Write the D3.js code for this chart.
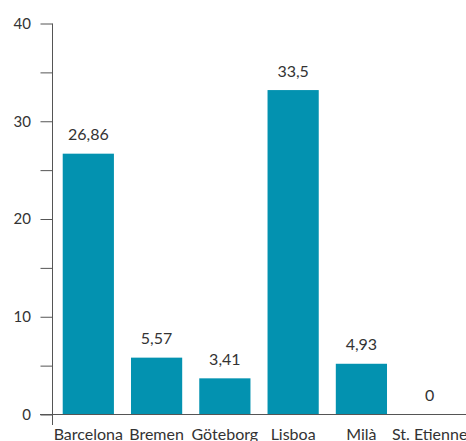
<!DOCTYPE html>
<html>
<head>
<meta charset="utf-8">
<script src="https://cdn.jsdelivr.net/npm/d3@7/dist/d3.min.js"></script>
<style>
  body { margin: 0; background: #fff; }
  text { font-family: Lato, "Open Sans", sans-serif; fill: #333; }
</style>
</head>
<body>
<div id="chart"></div>
<script>
// chart data
var cities = ["Barcelona", "Bremen", "Göteborg", "Lisboa", "Milà", "St. Etienne"];
var values = [26.86, 5.57, 3.41, 33.5, 4.93, 0];
var labels = ["26,86", "5,57", "3,41", "33,5", "4,93", "0"];
var yTicks = [0, 5, 10, 15, 20, 25, 30, 35, 40];

var width = 466, height = 441;
var svg = d3.select("#chart").append("svg")
    .attr("width", width)
    .attr("height", height);

var axisX = 52.5, baseY = 414.5;

// build rows from the arrays
var rows = cities.map(function(c, i) { return {city: c, value: values[i], label: labels[i]}; });

// scales
var x = d3.scaleBand().domain(cities).range([52, 466]).paddingInner(0.25).paddingOuter(0.157);
var y = d3.scaleLinear().domain([0, 40]).range([baseY, 23.5]);
// bars in the original sit on a slightly different scale than the axis
var yBar = d3.scaleLinear().domain([0, 40]).range([411, 27.8]);

// bars (zero values get no bar)
svg.selectAll("rect.bar").data(rows.filter(function(d) { return d.value > 0; }))
    .enter().append("rect")
    .attr("class", "bar")
    .attr("x", function(d) { return x(d.city); })
    .attr("y", function(d) { return yBar(d.value); })
    .attr("width", x.bandwidth())
    .attr("height", function(d) { return baseY - yBar(d.value); })
    .attr("fill", "#0392b0");

// value labels
svg.selectAll("text.val").data(rows)
    .enter().append("text")
    .attr("class", "val")
    .attr("x", function(d) { return x(d.city) + x.bandwidth() / 2; })
    .attr("y", function(d) { return (d.value > 0 ? yBar(d.value) : baseY) - 13.5; })
    .attr("text-anchor", "middle")
    .style("font-size", "16px")
    .text(function(d) { return d.label; });

// y axis
var yAxis = svg.append("g")
    .attr("transform", "translate(" + axisX + ",0)")
    .call(d3.axisLeft(y).tickValues(yTicks).tickSize(12).tickSizeOuter(0)
        .tickFormat(function(d) { return d % 10 === 0 ? d : ""; }));
yAxis.select(".domain").remove();
yAxis.selectAll("line").attr("stroke", "#555");
yAxis.selectAll("text")
    .attr("x", -21.5)
    .style("font-size", "15px")
    .style("font-family", "Lato, sans-serif")
    .attr("fill", "#333");

// axis lines
svg.append("line")
    .attr("x1", axisX).attr("x2", axisX)
    .attr("y1", y(40)).attr("y2", 425)
    .attr("stroke", "#555");
svg.append("line")
    .attr("x1", 40).attr("x2", 466)
    .attr("y1", baseY).attr("y2", baseY)
    .attr("stroke", "#555");

// category labels
svg.selectAll("text.cat").data(cities)
    .enter().append("text")
    .attr("class", "cat")
    .attr("x", function(d) { return x(d) + x.bandwidth() / 2; })
    .attr("y", 439.5)
    .attr("text-anchor", "middle")
    .style("font-size", "16px")
    .text(function(d) { return d; });
</script>
</body>
</html>
